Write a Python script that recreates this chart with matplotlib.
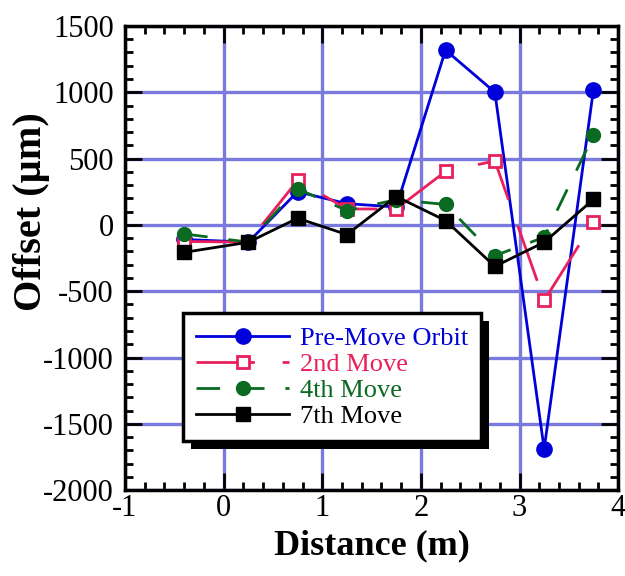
import matplotlib
matplotlib.use("Agg")
import matplotlib.pyplot as plt
from matplotlib.ticker import MultipleLocator
from matplotlib.patches import Rectangle

distance = [-0.4, 0.25, 0.75, 1.25, 1.75, 2.25, 2.75, 3.25, 3.75]
pre_move = [-110, -130, 250, 160, 135, 1318, 1000, -1690, 1020]
move2 = [-125, -130, 335, 120, 120, 403, 482, -570, 20]
move4 = [-68, -130, 272, 108, 190, 154, -232, -93, 676]
move7 = [-207, -131, 50, -73, 214, 33, -313, -131, 192]

labels = ["Pre-Move Orbit", "2nd Move", "4th Move", "7th Move"]
colors = ["#0000d8", "#e8205c", "#0b6a22", "#000000"]

plt.rcParams['font.family'] = ['Liberation Serif', 'DejaVu Serif']
plt.rcParams['axes.unicode_minus'] = False

fig = plt.figure(figsize=(6.25, 5.76), dpi=100)
ax = fig.add_axes([0.2, 0.149, 0.789, 0.806])

ax.plot(distance, pre_move, color=colors[0], lw=2, marker='o', ms=11,
        label=labels[0], zorder=3)
ax.plot(distance, move2, color=colors[1], lw=2, marker='s', ms=8.5,
        mfc='white', mew=2, dashes=(21, 10), label=labels[1], zorder=4)
ax.plot(distance, move4, color=colors[2], lw=2, marker='o', ms=10,
        dashes=(8.5, 7.5), label=labels[2], zorder=5)
ax.plot(distance, move7, color=colors[3], lw=2, marker='s', ms=10.5,
        label=labels[3], zorder=6)

ax.set_xlim(-1, 4)
ax.set_ylim(-2000, 1500)
ax.xaxis.set_major_locator(MultipleLocator(1))
ax.xaxis.set_minor_locator(MultipleLocator(0.2))
ax.yaxis.set_major_locator(MultipleLocator(500))
ax.yaxis.set_minor_locator(MultipleLocator(100))

ax.grid(True, which='major', color='#7a7ade', lw=2.4)
ax.set_axisbelow(True)

ax.tick_params(which='both', direction='in', top=True, right=True,
               labelsize=22, width=2)
ax.tick_params(axis='x', which='both', pad=3)
ax.tick_params(axis='y', which='both', pad=8)
ax.tick_params(which='major', length=12)
ax.tick_params(which='minor', length=6)
for s in ax.spines.values():
    s.set_linewidth(2.5)

ax.set_xlabel("Distance (m)", fontsize=26, fontweight='bold', labelpad=4)
ax.set_ylabel("Offset (µm)", fontsize=29, fontweight='bold')
ax.yaxis.set_label_coords(-0.152, 0.6)

leg = ax.legend(loc='upper left', bbox_to_anchor=(0.118, 0.381),
                borderaxespad=0, fontsize=19, fancybox=False,
                framealpha=1, edgecolor='black', handlelength=3.5,
                handletextpad=0.42, labelspacing=0.1, borderpad=0.5)
leg.get_frame().set_linewidth(2.5)
for t, c in zip(leg.get_texts(), colors):
    t.set_color(c)
leg.set_zorder(10)

fig.canvas.draw()
bb = leg.get_window_extent()
inv = ax.transAxes.inverted()
off = 8
(x0, y0) = inv.transform((bb.x0 + off, bb.y0 - off))
(x1, y1) = inv.transform((bb.x1 + off, bb.y1 - off))
ax.add_patch(Rectangle((x0, y0), x1 - x0, y1 - y0, transform=ax.transAxes,
                       facecolor='black', edgecolor='none', zorder=9,
                       clip_on=False))

fig.savefig("out.png", dpi=100)
